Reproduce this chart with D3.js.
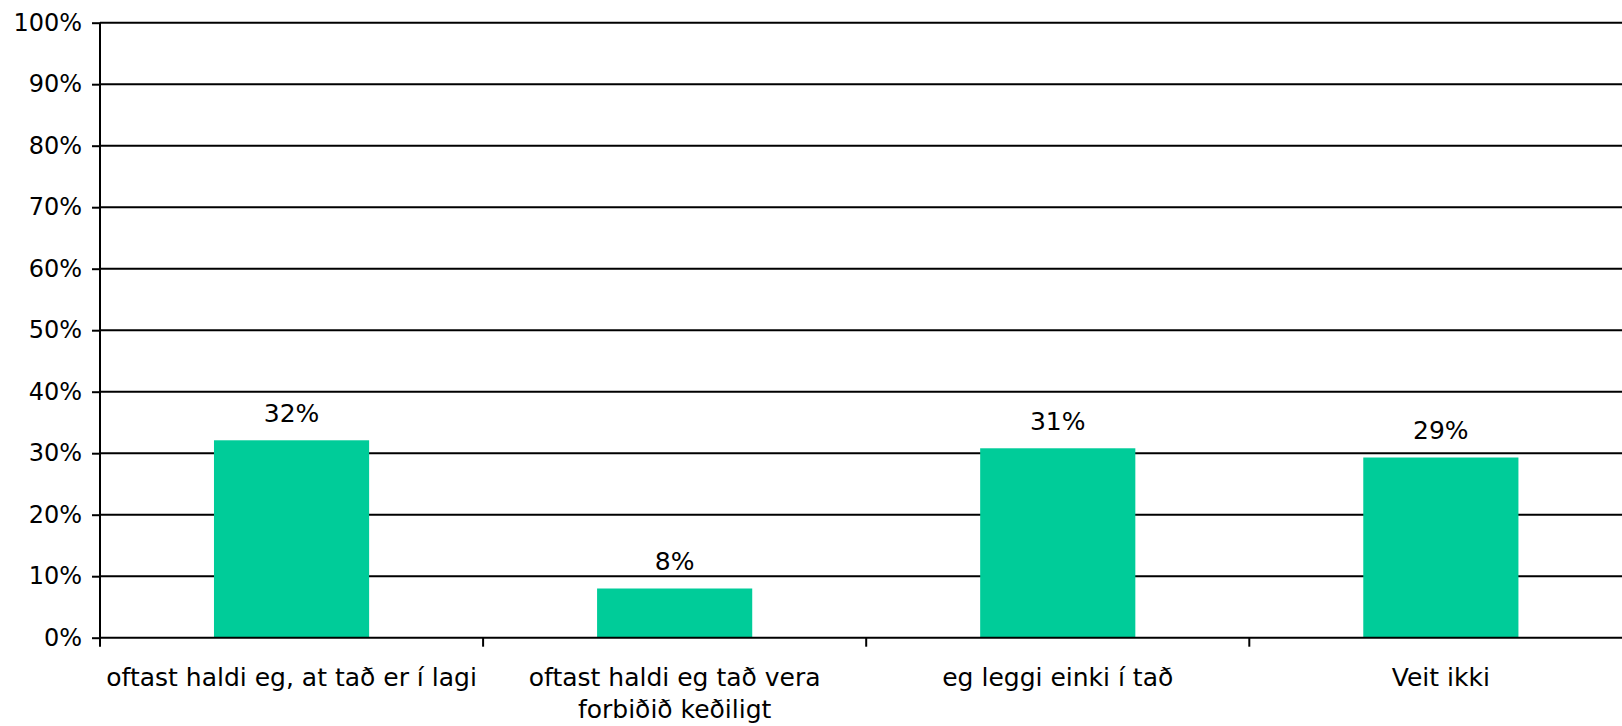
<!DOCTYPE html>
<html>
<head>
<meta charset="utf-8">
<script src="https://cdn.jsdelivr.net/npm/d3@7"></script>
<style>
  html, body { margin: 0; padding: 0; background: #fff; overflow: hidden; }
  svg { display: block; font-family: "DejaVu Sans", Verdana, sans-serif; }
</style>
</head>
<body>
<svg id="chart" width="1622" height="726"></svg>
<script>
// Survey answers and their shares
const categories = [
  ["oftast haldi eg, at tað er í lagi"],
  ["oftast haldi eg tað vera", "forbiðið keðiligt"],
  ["eg leggi einki í tað"],
  ["Veit ikki"]
];
const shares = [0.321, 0.080, 0.308, 0.293];
const yTicks = [0, 0.1, 0.2, 0.3, 0.4, 0.5, 0.6, 0.7, 0.8, 0.9, 1.0];

const svg = d3.select("#chart");
const plotLeft = 100, plotRight = 1632.4, plotTop = 22.7, plotBottom = 637.7;
const barColor = "#00cc99";
const axisFont = 24;
const labelFont = 25;

const x = d3.scaleBand()
  .domain(d3.range(categories.length))
  .range([plotLeft, plotRight])
  .padding(0);

const y = d3.scaleLinear()
  .domain([0, 1])
  .range([plotBottom, plotTop]);

const pct = d3.format(".0%");

// Horizontal gridlines
svg.append("g")
  .selectAll("line")
  .data(yTicks.filter(d => d > 0))
  .join("line")
  .attr("x1", plotLeft).attr("x2", plotRight)
  .attr("y1", d => y(d)).attr("y2", d => y(d))
  .attr("stroke", "#000").attr("stroke-width", 2);

// Bars
const barW = x.bandwidth() * 0.405;
svg.append("g")
  .selectAll("rect")
  .data(shares)
  .join("rect")
  .attr("x", (d, i) => x(i) + (x.bandwidth() - barW) / 2)
  .attr("width", barW)
  .attr("y", d => y(d))
  .attr("height", d => y(0) - y(d))
  .attr("fill", barColor);

// Value labels above bars
svg.append("g")
  .selectAll("text")
  .data(shares)
  .join("text")
  .attr("x", (d, i) => x(i) + x.bandwidth() / 2)
  .attr("y", d => y(d) - 18.5)
  .attr("text-anchor", "middle")
  .attr("font-size", labelFont)
  .attr("fill", "#000")
  .text(d => pct(d));

// Y axis
const yAxis = svg.append("g")
  .attr("transform", `translate(${plotLeft},0)`)
  .call(d3.axisLeft(y).tickValues(yTicks).tickFormat(pct).tickSize(8).tickPadding(10));
yAxis.select(".domain").attr("stroke", "#000").attr("stroke-width", 2)
  .attr("d", `M0,${plotTop}V${plotBottom}`);
yAxis.selectAll(".tick line").attr("stroke", "#000").attr("stroke-width", 2);
yAxis.selectAll(".tick text")
  .attr("font-size", axisFont)
  .attr("font-family", "DejaVu Sans, Verdana, sans-serif")
  .attr("fill", "#000");

// X axis with ticks at category boundaries
const xg = svg.append("g");
xg.append("line")
  .attr("x1", plotLeft).attr("x2", plotRight)
  .attr("y1", y(0)).attr("y2", y(0))
  .attr("stroke", "#000").attr("stroke-width", 2);
xg.selectAll("line.tick")
  .data(d3.range(categories.length + 1))
  .join("line")
  .attr("class", "tick")
  .attr("x1", i => plotLeft + i * x.step()).attr("x2", i => plotLeft + i * x.step())
  .attr("y1", y(0)).attr("y2", y(0) + 9)
  .attr("stroke", "#000").attr("stroke-width", 2);

// Category labels (may span two lines)
const lab = xg.selectAll("text.cat")
  .data(categories)
  .join("text")
  .attr("class", "cat")
  .attr("text-anchor", "middle")
  .attr("font-size", labelFont)
  .attr("fill", "#000");
lab.selectAll("tspan")
  .data((d, i) => d.map(line => ({ line, i })))
  .join("tspan")
  .attr("x", d => x(d.i) + x.bandwidth() / 2)
  .attr("y", (d, j) => 686 + j * 32)
  .text(d => d.line);
</script>
</body>
</html>
